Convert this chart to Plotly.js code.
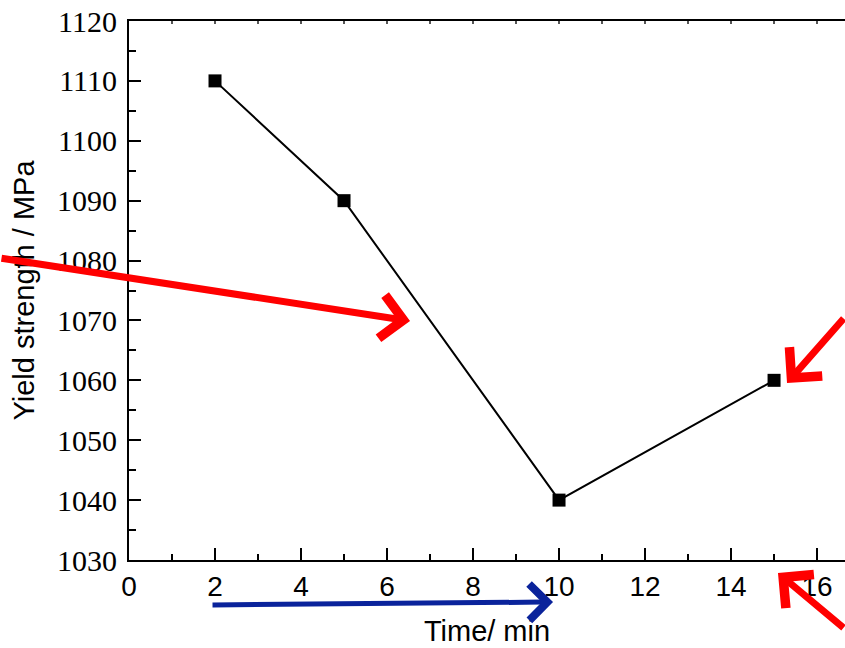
<!DOCTYPE html>
<html>
<head>
<meta charset="utf-8">
<script src="https://cdn.plot.ly/plotly-3.0.1.min.js"></script>
<style>html,body{margin:0;padding:0;background:#fff;}#chart{width:845px;height:648px;}</style>
</head>
<body>
<div id="chart"></div>
<script>
// Data
const timeMin = [2, 5, 10, 15];
const yieldStrength = [1110, 1090, 1040, 1060];
const xTickValues = [0, 2, 4, 6, 8, 10, 12, 14, 16];
const yTickValues = [1030, 1040, 1050, 1060, 1070, 1080, 1090, 1100, 1110, 1120];

const SANS = "'Liberation Sans', Arial, sans-serif";
const SERIF = "'Liberation Serif', 'Times New Roman', serif";

const trace = {
  x: timeMin,
  y: yieldStrength,
  type: 'scatter',
  mode: 'lines+markers',
  line: {color: '#000', width: 2},
  marker: {symbol: 'square', size: 13, color: '#000'},
  cliponaxis: false,
  showlegend: false,
  hoverinfo: 'x+y'
};

// helper trace for the top axis ticks
const topTrace = {x: timeMin, y: yieldStrength, xaxis: 'x2', yaxis: 'y', mode: 'none', showlegend: false, hoverinfo: 'skip'};

function arrow(x, y, ax, ay, color, width, size) {
  return {xref: 'paper', yref: 'paper', x: x, y: y, ax: ax, ay: ay, axref: 'pixel', ayref: 'pixel',
    text: '', showarrow: true, arrowhead: 4, arrowsize: size, arrowwidth: width, arrowcolor: color};
}

const layout = {
  width: 845, height: 648,
  margin: {l: 129, r: 0, t: 21, b: 88},
  paper_bgcolor: '#fff', plot_bgcolor: '#fff',
  xaxis: {
    range: [0, 16.65],
    tickvals: xTickValues,
    ticks: 'inside', ticklen: 12, tickwidth: 2, tickcolor: '#000',
    minor: {dtick: 1, ticks: 'inside', ticklen: 6, tickwidth: 2, tickcolor: '#000'},
    showline: true, linecolor: '#000', linewidth: 2,
    showgrid: false, zeroline: false,
    tickfont: {family: SANS, size: 28, color: '#000'},
    title: {text: 'Time/ min', font: {family: SANS, size: 29, color: '#000'}, standoff: 20}
  },
  xaxis2: {
    overlaying: 'x', side: 'top', matches: 'x', range: [0, 16.65],
    dtick: 1, ticks: 'inside', ticklen: 3, tickwidth: 2, tickcolor: '#555',
    showticklabels: false, showline: true, linecolor: '#000', linewidth: 2,
    showgrid: false, zeroline: false
  },
  yaxis: {
    range: [1030, 1120],
    tickvals: yTickValues,
    ticks: 'inside', ticklen: 12, tickwidth: 2, tickcolor: '#000',
    minor: {dtick: 5, ticks: 'inside', ticklen: 7, tickwidth: 2, tickcolor: '#000'},
    showline: true, linecolor: '#000', linewidth: 2,
    showgrid: false, zeroline: false,
    ticklabelstandoff: 4,
    tickfont: {family: SERIF, size: 30, color: '#000'},
    title: {text: 'Yield strength / MPa', font: {family: SANS, size: 29, color: '#000'}, standoff: 14}
  },
  annotations: [
    arrow(0.3925, 0.4434, -420, -63, '#ff0000', 7, 1.2),
    arrow(0.919, 0.3284, 68, -66, '#ff0000', 7, 1.2),
    arrow(0.9064, -0.0241, 77, 56, '#ff0000', 7, 1.2),
    arrow(0.5922, -0.0779, -342, 3, '#0a239b', 5, 1.4)
  ]
};

Plotly.newPlot('chart', [trace, topTrace], layout, {displayModeBar: false, staticPlot: true});
</script>
</body>
</html>
